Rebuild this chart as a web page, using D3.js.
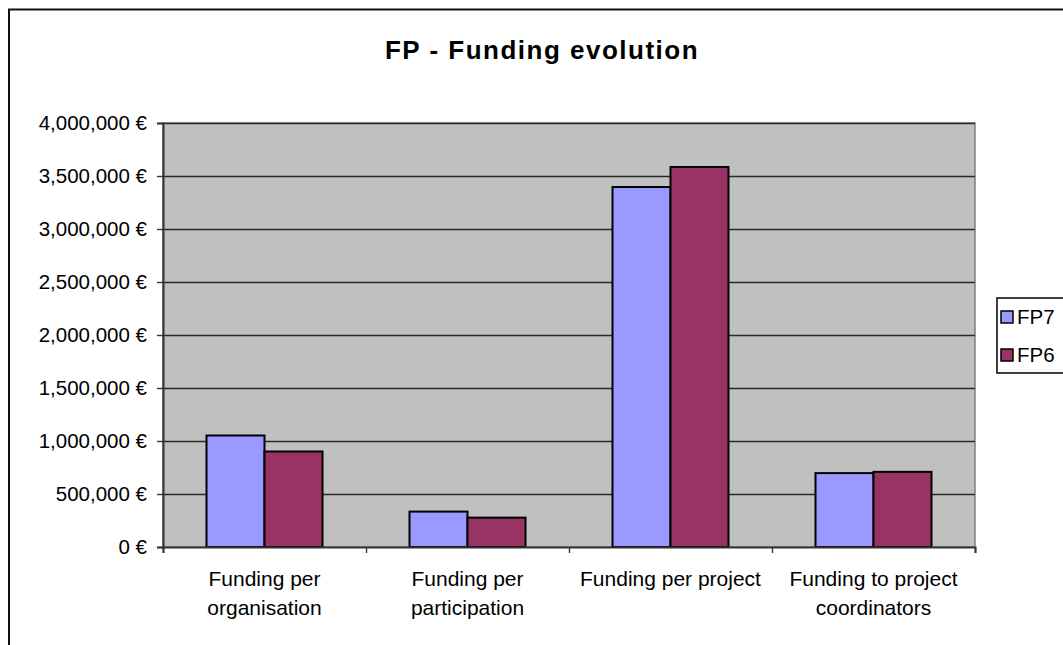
<!DOCTYPE html>
<html>
<head>
<meta charset="utf-8">
<script src="https://cdn.jsdelivr.net/npm/d3@7"></script>
<style>
  html, body { margin: 0; padding: 0; background: #fff; }
  svg { display: block; font-family: "Liberation Sans", Arial, sans-serif; }
</style>
</head>
<body>
<div id="chart"></div>
<script>
// chart data
var categories = ["Funding per organisation", "Funding per participation", "Funding per project", "Funding to project coordinators"];
var seriesNames = ["FP7", "FP6"];
var fp7Values = [1052000, 334000, 3396000, 697000];
var fp6Values = [901000, 277000, 3585000, 709000];
var yTicks = [0, 500000, 1000000, 1500000, 2000000, 2500000, 3000000, 3500000, 4000000];
var seriesColors = ["#9999FF", "#993366"];

var W = 1063, H = 645;
var plot = { left: 163, top: 123, right: 975, bottom: 547 };

var svg = d3.select("#chart").append("svg")
    .attr("width", W)
    .attr("height", H);

// outer chart frame (cut off at right and bottom like the picture)
svg.append("rect")
    .attr("x", 9).attr("y", 9.5)
    .attr("width", 1200).attr("height", 800)
    .attr("fill", "#fff")
    .attr("stroke", "#111")
    .attr("stroke-width", 2);

svg.append("text")
    .attr("x", 542).attr("y", 59)
    .attr("text-anchor", "middle")
    .style("font-size", "26px")
    .style("font-weight", "bold")
    .style("letter-spacing", "1.5px")
    .text("FP - Funding evolution");

var x0 = d3.scaleBand().domain(categories).range([plot.left, plot.right]).padding(0);
var x1 = d3.scaleBand().domain(seriesNames).range([0, x0.bandwidth()]).paddingInner(0).paddingOuter(0.75);
var y = d3.scaleLinear().domain([0, 4000000]).range([plot.bottom, plot.top]);

// plot background
svg.append("rect")
    .attr("x", plot.left).attr("y", plot.top)
    .attr("width", plot.right - plot.left).attr("height", plot.bottom - plot.top)
    .attr("fill", "#C0C0C0")
    .attr("stroke", "#808080")
    .attr("stroke-width", 1.5);

// gridlines
var grid = svg.append("g")
    .attr("transform", "translate(" + plot.left + ",0)")
    .call(d3.axisLeft(y).tickValues(yTicks.slice(1)).tickSize(-(plot.right - plot.left)).tickFormat(""));
grid.select(".domain").remove();
grid.selectAll("line").attr("stroke", "#2a2a2a").attr("stroke-width", 1.4);

// bars
var rows = categories.map(function (c, i) {
    return { cat: c, vals: [fp7Values[i], fp6Values[i]] };
});
var groups = svg.selectAll("g.cat").data(rows).enter().append("g")
    .attr("class", "cat")
    .attr("transform", function (d) { return "translate(" + x0(d.cat) + ",0)"; });
groups.selectAll("rect").data(function (d) {
    return d.vals.map(function (v, j) { return { name: seriesNames[j], v: v, color: seriesColors[j] }; });
}).enter().append("rect")
    .attr("x", function (d) { return x1(d.name); })
    .attr("y", function (d) { return y(d.v); })
    .attr("width", x1.bandwidth())
    .attr("height", function (d) { return y(0) - y(d.v); })
    .attr("fill", function (d) { return d.color; })
    .attr("stroke", "#000")
    .attr("stroke-width", 2);

// y axis
var fmt = d3.format(",");
var yAxis = svg.append("g")
    .attr("transform", "translate(" + plot.left + ",0)")
    .call(d3.axisLeft(y).tickValues(yTicks).tickSize(6).tickPadding(10)
        .tickFormat(function (d) { return fmt(d) + " \u20AC"; }));
yAxis.select(".domain").attr("stroke", "#333").attr("stroke-width", 2);
yAxis.selectAll("line").attr("stroke", "#333").attr("stroke-width", 1.4);
yAxis.selectAll("text").style("font-size", "20.5px").attr("fill", "#000").attr("font-family", null);

// x axis with ticks at category boundaries
var xb = d3.scaleLinear().domain([0, categories.length]).range([plot.left, plot.right]);
var xAxis = svg.append("g")
    .attr("transform", "translate(0," + plot.bottom + ")")
    .call(d3.axisBottom(xb).tickValues(d3.range(categories.length + 1)).tickSize(6).tickFormat(""));
xAxis.select(".domain").attr("stroke", "#333").attr("stroke-width", 2);
xAxis.selectAll("line").attr("stroke", "#333").attr("stroke-width", 1.4);

// category labels, wrapped
var labels = svg.selectAll("text.cat").data(categories).enter().append("text")
    .attr("class", "cat")
    .attr("text-anchor", "middle")
    .style("font-size", "21px")
    .attr("y", 586);
labels.each(function (d) {
    var t = d3.select(this);
    var cx = x0(d) + x0.bandwidth() / 2;
    var words = d.split(" "), line = [];
    var ts = t.append("tspan").attr("x", cx).attr("dy", 0);
    words.forEach(function (w) {
        line.push(w);
        ts.text(line.join(" "));
        if (ts.node().getComputedTextLength() > 195 && line.length > 1) {
            line.pop();
            ts.text(line.join(" "));
            line = [w];
            ts = t.append("tspan").attr("x", cx).attr("dy", 28.5).text(w);
        }
    });
});

// legend
var legend = svg.append("g").attr("transform", "translate(997,298)");
legend.append("rect")
    .attr("width", 100).attr("height", 75)
    .attr("fill", "#fff").attr("stroke", "#000").attr("stroke-width", 1.5);
var items = legend.selectAll("g.item").data(seriesNames).enter().append("g")
    .attr("class", "item")
    .attr("transform", function (d, i) { return "translate(0," + (19 + i * 38) + ")"; });
items.append("rect")
    .attr("x", 4).attr("y", -6).attr("width", 12).attr("height", 12)
    .attr("fill", function (d, i) { return seriesColors[i]; })
    .attr("stroke", "#000").attr("stroke-width", 1.5);
items.append("text")
    .attr("x", 20).attr("dy", "0.35em")
    .style("font-size", "20.5px")
    .text(function (d) { return d; });
</script>
</body>
</html>
